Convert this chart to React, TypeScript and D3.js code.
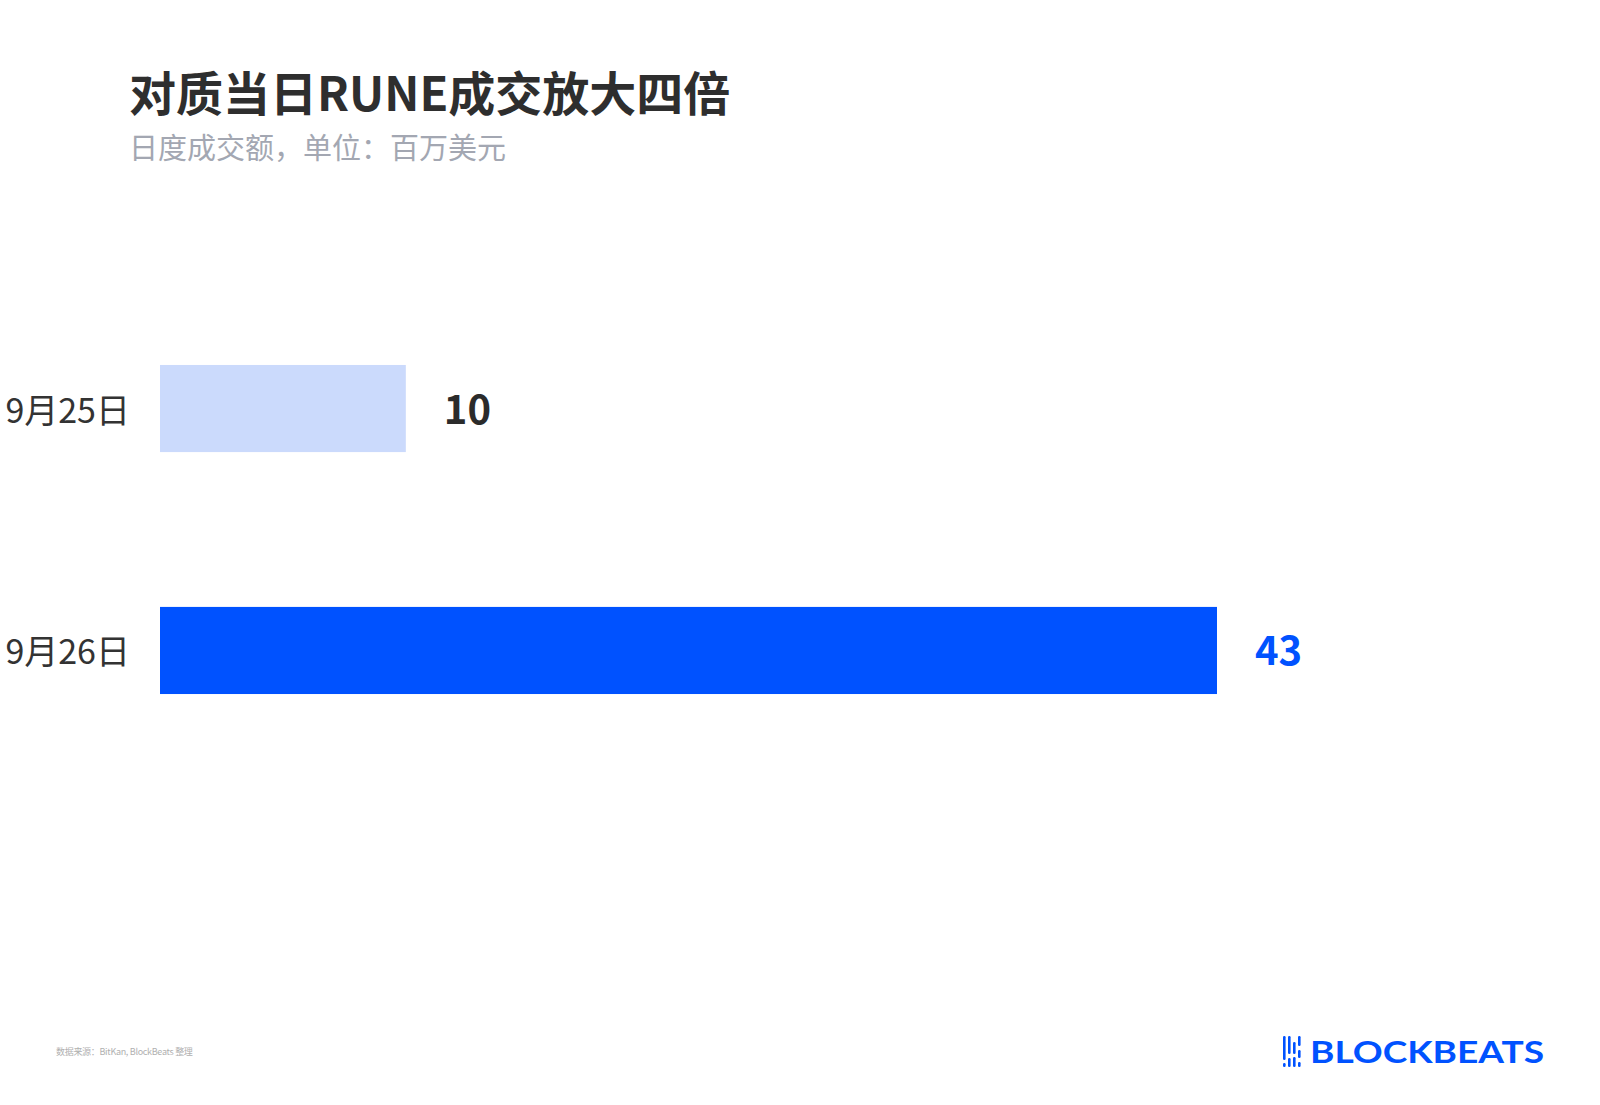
import React from "react";
import * as d3 from "d3";

const categories = ["9月25日", "9月26日"];
const values = [10, 43];
const barColors = ["#cbdafc", "#0052ff"];
const labelColors = ["#2b2b2b", "#0052ff"];
const title = "对质当日RUNE成交放大四倍";
const subtitle = "日度成交额，单位：百万美元";
const source = "数据来源：BitKan, BlockBeats 整理";

const W = 1600;
const H = 1105;
const CJK = "'Noto Sans CJK SC', 'Noto Sans', sans-serif";

export default function App() {
  const x = d3.scaleLinear().domain([0, 43]).range([160, 1217]);
  const y = d3
    .scaleBand<string>()
    .domain(categories)
    .range([244, 815])
    .paddingInner(0.64)
    .paddingOuter(0.5);
  const bw = y.bandwidth();

  const iconBars = [
    { dx: 0, segs: [[0, 24], [27, 31]] },
    { dx: 5, segs: [[0, 18], [22, 31]] },
    { dx: 10, segs: [[6, 18], [21, 31]] },
    { dx: 15, segs: [[0, 10], [14, 22], [26, 31]] },
  ];

  return (
    <svg
      width={W}
      height={H}
      viewBox={`0 0 ${W} ${H}`}
      style={{ position: "absolute", left: 0, top: 0, background: "#fff" }}
    >
      <rect x={0} y={0} width={W} height={H} fill="#fff" />
      <text x={129} y={111} fontFamily={CJK} fontWeight={700} fontSize={47} fill="#2e2e2e">
        {title}
      </text>
      <text x={129} y={159} fontFamily={CJK} fontSize={29} fill="#a3a7b2">
        {subtitle}
      </text>

      {categories.map((c, i) => {
        const yy = y(c)!;
        const cy = yy + bw / 2;
        return (
          <g key={c}>
            <rect x={x(0)} y={yy} width={x(values[i]) - x(0)} height={bw} fill={barColors[i]} />
            <text
              x={130}
              y={cy + 14}
              textAnchor="end"
              fontFamily={CJK}
              fontSize={34}
              fill="#333"
            >
              {c}
            </text>
            <text
              x={x(values[i]) + 38}
              y={cy + 15}
              fontFamily={CJK}
              fontWeight={700}
              fontSize={40}
              fill={labelColors[i]}
            >
              {values[i]}
            </text>
          </g>
        );
      })}

      <text x={56} y={1055} fontFamily={CJK} fontSize={9} fill="#b0b0b0" letterSpacing={-0.3}>
        {source}
      </text>

      <g transform="translate(1283,1036)" fill="#0052ff">
        {iconBars.map((b, i) =>
          b.segs.map((s, j) => (
            <rect key={`${i}-${j}`} x={b.dx} y={s[0]} width={2.6} height={s[1] - s[0]} rx={1.2} />
          ))
        )}
      </g>
      <text
        x={1310}
        y={1063}
        fontFamily="Lato, 'DejaVu Sans', sans-serif"
        fontWeight={700}
        fontSize={30}
        fill="#0052ff"
        textLength={234}
        lengthAdjust="spacingAndGlyphs"
      >
        BLOCKBEATS
      </text>
    </svg>
  );
}
